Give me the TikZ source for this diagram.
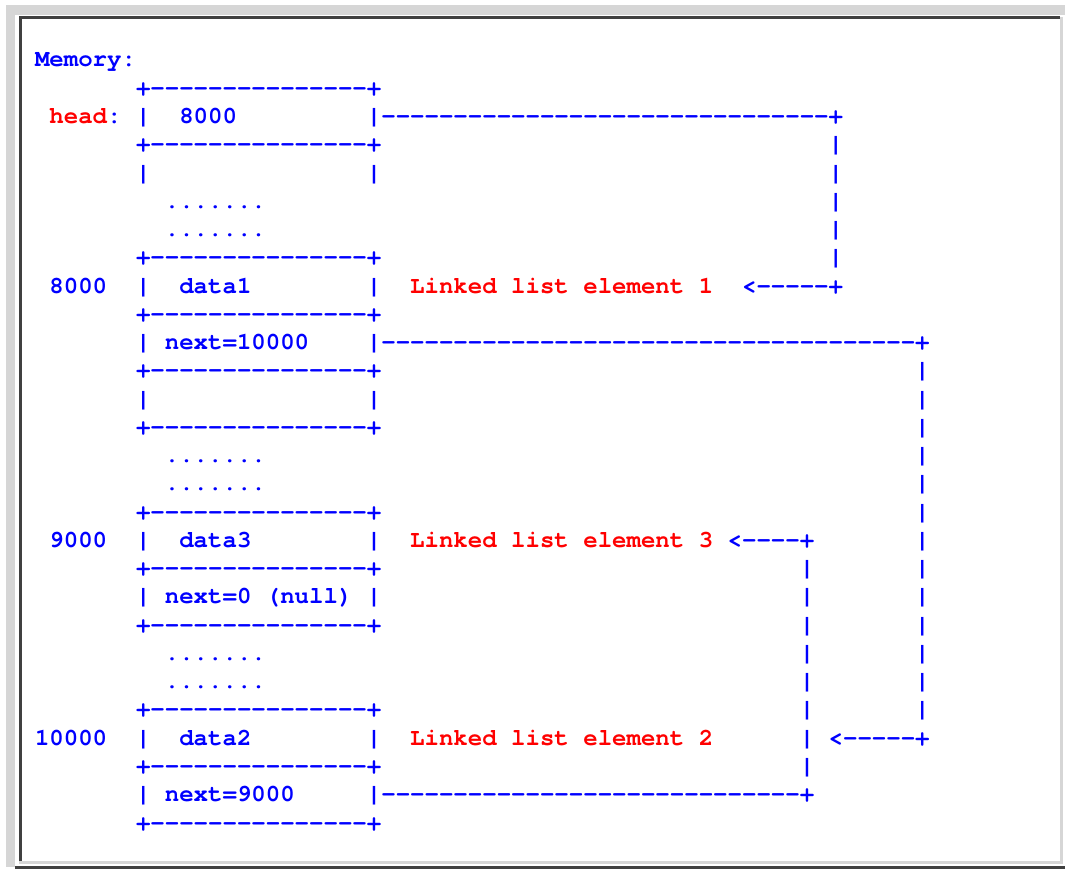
\documentclass[tikz,border=0pt]{standalone}
\usepackage{fontspec}
\setmonofont{texgyrecursor-regular.otf}[BoldFont=texgyrecursor-bold.otf]

\definecolor{memblue}{RGB}{0,0,255}
\definecolor{memred}{RGB}{255,0,0}
\definecolor{framelight}{RGB}{214,214,214}
\definecolor{framedark}{RGB}{64,64,64}

% a run of n dashes
\ExplSyntaxOn
\cs_new:Npn \dashrun #1 { \prg_replicate:nn {#1} {-} }
\ExplSyntaxOff

\begin{document}
\begin{tikzpicture}[
        x=1pt, y=-1pt,
        every node/.style={font=\ttfamily\bfseries\fontsize{24.05}{28}\selectfont},
        ascii/.style={anchor=base west, inner sep=0pt, outer sep=0pt,
        text=memblue},
        note/.style={ascii, text=memred},
      ]

      \useasboundingbox (0,0) rectangle (1065,869);
      \fill[white] (0,0) rectangle (1065,869);

      % frame
      \fill[framelight] (6,5) rectangle (1065,15);
      \fill[framelight] (6,5) rectangle (15,867);
      \fill[framedark] (19,16.5) rectangle (1060,19);
      \fill[framedark] (19,16.5) rectangle (21.5,861);
      \fill[framelight] (1060,17) rectangle (1063,863.5);
      \fill[framelight] (19,860.5) rectangle (1063,863.5);
      \fill[framedark] (15,866) rectangle (1065,869);

      % character grid: one unit = one column / one line
      \begin{scope}[shift={(35,67)}, x=14.43pt, y=-28.26pt]

        \node[ascii] (title) at (0,0) {Memory:};

        % memory cells
        \foreach \r in {1,3,7,9,11,13,16,18,20,23,25,27}
          \node[ascii] (rim\r) at (7,\r) {+\dashrun{15}+};
        \foreach \r in {5,6,14,15,21,22}
          \node[ascii] (gap\r) at (9,\r) {.......};

        \node[note]  (head)   at (1,2) {head};
        \node[ascii] (colon)  at (5,2) {:};
        \node[ascii] (hl)     at (7,2) {|};
        \node[ascii] (hval)   at (10,2) {8000};
        \node[ascii] (hout)   at (23,2) {|\dashrun{31}+};

        \node[ascii] (el4)    at (7,4) {|};
        \node[ascii] (er4)    at (23,4) {|};

        \node[ascii] (adr1)   at (1,8) {8000};
        \node[ascii] (dl1)    at (7,8) {|};
        \node[ascii] (data1)  at (10,8) {data1};
        \node[ascii] (dr1)    at (23,8) {|};
        \node[note]  (elem1)  at (26,8) {Linked list element 1};
        \node[ascii] (in1)    at (49,8) {<\dashrun{5}+};

        \node[ascii] (nl1)    at (7,10) {|};
        \node[ascii] (next1)  at (9,10) {next=10000};
        \node[ascii] (out1)   at (23,10) {|\dashrun{37}+};

        \node[ascii] (el12)   at (7,12) {|};
        \node[ascii] (er12)   at (23,12) {|};

        \node[ascii] (adr3)   at (1,17) {9000};
        \node[ascii] (dl3)    at (7,17) {|};
        \node[ascii] (data3)  at (10,17) {data3};
        \node[ascii] (dr3)    at (23,17) {|};
        \node[note]  (elem3)  at (26,17) {Linked list element 3};
        \node[ascii] (in3)    at (48,17) {<\dashrun{4}+};

        \node[ascii] (nl3)    at (7,19) {|};
        \node[ascii] (next3)  at (9,19) {next=0 (null)};
        \node[ascii] (nr3)    at (23,19) {|};

        \node[ascii] (adr2)   at (0,24) {10000};
        \node[ascii] (dl2)    at (7,24) {|};
        \node[ascii] (data2)  at (10,24) {data2};
        \node[ascii] (dr2)    at (23,24) {|};
        \node[note]  (elem2)  at (26,24) {Linked list element 2};
        \node[ascii] (in2)    at (55,24) {<\dashrun{5}+};

        \node[ascii] (nl2)    at (7,26) {|};
        \node[ascii] (next2)  at (9,26) {next=9000};
        \node[ascii] (out2)   at (23,26) {|\dashrun{29}+};

        % vertical runs of the pointers
        \foreach \r in {3,...,7}
          \node[ascii] (up\r) at (55,\r) {|};
        \foreach \r in {11,...,23}
          \node[ascii] (down\r) at (61,\r) {|};
        \foreach \r in {18,...,25}
          \node[ascii] (back\r) at (53,\r) {|};

      \end{scope}

    \end{tikzpicture}
\end{document}
